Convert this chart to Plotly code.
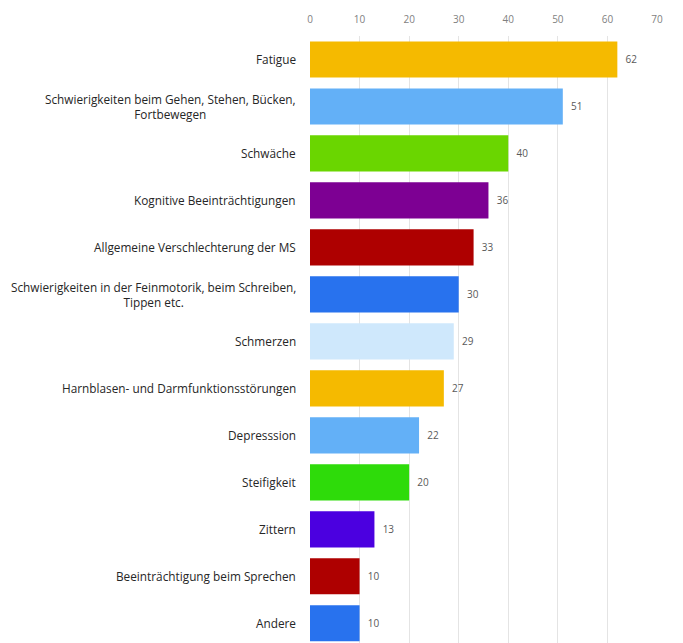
import plotly.graph_objects as go

categories = [
    "Fatigue",
    "Schwierigkeiten beim Gehen, Stehen, Bücken,<br>Fortbewegen",
    "Schwäche",
    "Kognitive Beeinträchtigungen",
    "Allgemeine Verschlechterung der MS",
    "Schwierigkeiten in der Feinmotorik, beim Schreiben,<br>Tippen etc.",
    "Schmerzen",
    "Harnblasen- und Darmfunktionsstörungen",
    "Depresssion",
    "Steifigkeit",
    "Zittern",
    "Beeinträchtigung beim Sprechen",
    "Andere",
]
values = [62, 51, 40, 36, 33, 30, 29, 27, 22, 20, 13, 10, 10]
colors = [
    "#F5BA00", "#63B0F7", "#6AD600", "#7D0093", "#AE0000", "#2872EE",
    "#CFE8FC", "#F5BA00", "#63B0F7", "#2EDB0A", "#4B00E0", "#AE0000", "#2872EE",
]
x_ticks = [0, 10, 20, 30, 40, 50, 60, 70]

idx = list(range(len(categories)))

fig = go.Figure()
fig.add_trace(go.Bar(
    x=values,
    y=idx,
    orientation="h",
    marker=dict(color=colors, line=dict(width=0)),
    width=0.77,
    text=[f"  {v}" for v in values],
    textposition="outside",
    cliponaxis=False,
    textfont=dict(family="Open Sans", size=10, color="#595959"),
    hoverinfo="skip",
))

for i, c in zip(idx, categories):
    fig.add_annotation(
        x=0, xref="paper", y=i, yref="y",
        text=c, showarrow=False, xanchor="right", yanchor="middle",
        xshift=-12, align="center",
        font=dict(family="Open Sans", size=11.8, color="#262626"),
    )

fig.update_layout(
    width=683, height=643,
    margin=dict(l=310, r=26, t=36, b=0),
    paper_bgcolor="white", plot_bgcolor="white",
    showlegend=False,
    xaxis=dict(
        side="top", range=[0, 70], tickvals=x_ticks,
        showgrid=True, gridcolor="#E4E4E4", gridwidth=1,
        zeroline=False, showline=False, ticks="",
        ticklabelstandoff=10,
        tickfont=dict(family="Open Sans", size=10, color="#7F7F7F"),
    ),
    yaxis=dict(
        range=[12.42, -0.5], showticklabels=False, showgrid=False,
        zeroline=False, showline=False, ticks="",
    ),
)

fig.write_html("out.html")
